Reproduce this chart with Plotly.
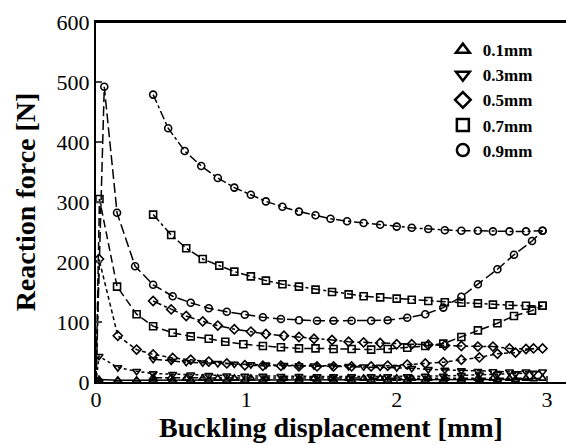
import plotly.graph_objects as go

# ---------------- data ----------------
# "A" curves start at the origin; "B" curves start near 0.38 mm
circ_A_x = [0, 0.055, 0.14, 0.26, 0.38, 0.51, 0.63, 0.75, 0.87, 0.99, 1.11, 1.23, 1.35, 1.47, 1.58,
            1.70, 1.83, 1.94, 2.07, 2.19, 2.31, 2.43, 2.54, 2.67, 2.78, 2.90, 2.97]
circ_A_y = [0, 492, 282, 193, 162, 143, 132, 123, 117, 112, 108, 105, 103, 102, 102,
            102, 102, 103, 107, 113, 124, 142, 163, 188, 212, 235, 252]
circ_B_x = [0.38, 0.48, 0.59, 0.70, 0.81, 0.92, 1.03, 1.13, 1.24, 1.35, 1.46, 1.56, 1.67, 1.78,
            1.89, 2.00, 2.10, 2.21, 2.32, 2.43, 2.54, 2.64, 2.75, 2.86, 2.97]
circ_B_y = [479, 423, 385, 360, 340, 324, 312, 301, 292, 284, 278, 272, 268, 265,
            262, 259, 257, 255, 253, 252, 252, 251, 251, 251, 252]

sq_A_x = [0, 0.023, 0.14, 0.27, 0.38, 0.51, 0.63, 0.75, 0.86, 0.98, 1.11, 1.23, 1.35, 1.46, 1.58,
          1.70, 1.83, 1.94, 2.07, 2.19, 2.31, 2.43, 2.54, 2.67, 2.78, 2.90, 2.97]
sq_A_y = [0, 305, 159, 113, 93, 82, 76, 72, 67, 63, 60, 58, 56, 56, 55,
          55, 54, 55, 57, 60, 64, 75, 86, 98, 110, 119, 127]
sq_B_x = [0.38, 0.50, 0.60, 0.71, 0.82, 0.92, 1.03, 1.13, 1.24, 1.35, 1.46, 1.57, 1.68, 1.78,
          1.89, 2.00, 2.10, 2.21, 2.32, 2.43, 2.54, 2.64, 2.75, 2.86, 2.97]
sq_B_y = [279, 245, 223, 205, 194, 184, 176, 169, 163, 159, 154, 150, 146, 143,
          141, 139, 137, 135, 133, 132, 131, 129, 128, 127, 127]

dia_A_x = [0, 0.02, 0.145, 0.27, 0.38, 0.51, 0.63, 0.75, 0.87, 0.99, 1.11, 1.23, 1.35, 1.47, 1.58,
           1.70, 1.83, 1.94, 2.07, 2.19, 2.31, 2.43, 2.55, 2.67, 2.79, 2.91]
dia_A_y = [0, 205, 77, 54, 46, 40, 37, 34, 31, 28, 27, 27, 26, 26, 26,
           26, 26, 27, 29, 31, 33, 37, 41, 47, 49, 56]
dia_B_x = [0.38, 0.50, 0.60, 0.71, 0.81, 0.92, 1.03, 1.13, 1.25, 1.35, 1.45, 1.57, 1.68, 1.78,
           1.89, 2.00, 2.10, 2.21, 2.32, 2.43, 2.54, 2.64, 2.75, 2.86, 2.97]
dia_B_y = [135, 121, 110, 101, 94, 88, 84, 80, 77, 75, 72, 70, 67, 66,
           65, 63, 63, 62, 61, 60, 59, 59, 56, 55, 56]

dn_A_x = [0, 0.02, 0.145, 0.27, 0.38, 0.51, 0.63, 0.75, 0.87, 0.99, 1.11, 1.23, 1.35, 1.47, 1.58,
          1.70, 1.83, 1.94, 2.07, 2.19, 2.31, 2.43, 2.55, 2.67, 2.79, 2.91]
dn_A_y = [0, 43, 24, 18, 14, 13, 12, 11, 10.5, 10, 10, 9.5, 9.5, 9, 9,
          9, 9, 9, 9, 10, 10, 11, 12, 13, 14, 15]
dn_B_x = [0.38, 0.50, 0.60, 0.71, 0.81, 0.92, 1.03, 1.13, 1.25, 1.35, 1.45, 1.57, 1.68, 1.78,
          1.89, 2.00, 2.10, 2.21, 2.32, 2.43, 2.54, 2.64, 2.75, 2.86, 2.97]
dn_B_y = [38, 35, 33, 32, 31, 30, 29, 28.5, 28, 27.5, 27, 26.5, 26, 25.5,
          25, 24, 23, 21, 20, 19, 18, 17.5, 17, 17, 17]

up_A_x = [0, 0.02, 0.145, 0.27, 0.38, 0.51, 0.63, 0.75, 0.87, 0.99, 1.11, 1.23, 1.35, 1.47, 1.58,
          1.70, 1.83, 1.94, 2.07, 2.19, 2.31, 2.43, 2.55, 2.67, 2.79, 2.91]
up_A_y = [0, 4, 3, 3, 3, 3, 3, 3, 3, 3, 3, 3, 3, 3, 3,
          3, 3, 3, 3, 3, 3, 3, 4, 4, 4, 5]
up_B_x = [0.38, 0.50, 0.60, 0.71, 0.81, 0.92, 1.03, 1.13, 1.25, 1.35, 1.45, 1.57, 1.68, 1.78,
          1.89, 2.00, 2.10, 2.21, 2.32, 2.43, 2.54, 2.64, 2.75, 2.86, 2.97]
up_B_y = [7, 7, 6, 6, 6, 6, 6, 6, 6, 6, 6, 6, 6, 6,
          6, 6, 6, 6, 6, 6, 6, 6, 6, 6, 6]

legend_labels = ["0.1mm", "0.3mm", "0.5mm", "0.7mm", "0.9mm"]
legend_symbols = ["triangle-up-open", "triangle-down-open", "diamond-open", "square-open", "circle-open"]

x_ticks = [0, 1, 2, 3]
y_ticks = [0, 100, 200, 300, 400, 500, 600]

# ---------------- figure ----------------
fig = go.Figure()

series = [
    (up_A_x, up_A_y, "triangle-up-open", "solid"),
    (up_B_x, up_B_y, "triangle-up-open", "dashdot"),
    (dn_A_x, dn_A_y, "triangle-down-open", "3px,3px"),
    (dn_B_x, dn_B_y, "triangle-down-open", "dashdot"),
    (dia_A_x, dia_A_y, "diamond-open", "4px,3px"),
    (dia_B_x, dia_B_y, "diamond-open", "dashdot"),
    (sq_A_x, sq_A_y, "square-open", "8px,4px"),
    (sq_B_x, sq_B_y, "square-open", "dashdot"),
    (circ_A_x, circ_A_y, "circle-open", "10px,4px"),
    (circ_B_x, circ_B_y, "circle-open", "9px,3px,3px,3px"),
]
for xs, ys, sym, dash in series:
    fig.add_trace(go.Scatter(
        x=xs, y=ys, mode="lines+markers", showlegend=False,
        line=dict(color="black", width=1.5, dash=dash),
        marker=dict(symbol=sym, size=7, color="black", line=dict(width=1.6, color="black")),
    ))

for lab, sym in zip(legend_labels, legend_symbols):
    fig.add_trace(go.Scatter(
        x=[None], y=[None], mode="markers", name=lab,
        marker=dict(symbol=sym, size=12, color="black", line=dict(width=2.5, color="black")),
    ))

# top frame line
fig.add_shape(type="line", xref="paper", yref="paper", x0=0, x1=1, y0=1, y1=1,
              line=dict(color="black", width=2))

fig.update_layout(
    width=566, height=445,
    margin=dict(l=96, r=0, t=22, b=63),
    paper_bgcolor="white", plot_bgcolor="white",
    font=dict(family="Liberation Serif", color="black"),
    legend=dict(x=0.738, y=0.972, xanchor="left", yanchor="top",
                bgcolor="rgba(0,0,0,0)", tracegroupgap=0,
                font=dict(family="Liberation Serif", size=17, color="black", weight="bold"),
                itemclick=False),
    xaxis=dict(range=[0, 3.126], tickvals=x_ticks, ticks="inside", ticklen=6, tickwidth=1.5,
               showline=True, linewidth=2, linecolor="black", mirror=True, showgrid=False,
               zeroline=False, tickfont=dict(size=22, color="black"), ticklabelstandoff=-3,
               title=dict(text="Buckling displacement [mm]",
                          font=dict(size=28, weight="bold"), standoff=4)),
    yaxis=dict(range=[0, 600], tickvals=y_ticks, ticks="inside", ticklen=6, tickwidth=1.5,
               showline=True, linewidth=2, linecolor="black", mirror=False, showgrid=False,
               zeroline=False, tickfont=dict(size=22, color="black"),
               title=dict(text="Reaction force [N]",
                          font=dict(size=28, weight="bold"), standoff=13)),
)

fig.write_html("out.html")
